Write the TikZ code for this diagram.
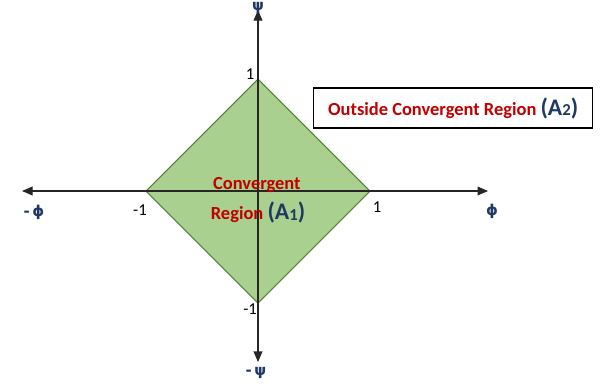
\documentclass[tikz,border=0pt]{standalone}
\usepackage{fontspec}
\setmainfont{Carlito}
\newfontfamily\greekfont{DejaVu Sans}
\usetikzlibrary{
  arrows.meta,
  positioning
}
\definecolor{regionred}{RGB}{192,0,0}
\definecolor{areablue}{RGB}{31,56,100}
\definecolor{diamondfill}{RGB}{169,208,142}
\definecolor{diamondedge}{RGB}{84,130,53}

\begin{document}
\begin{tikzpicture}[
        x=2.24cm, y=2.24cm,
        axis/.style={black!85, line width=0.6pt, -{Triangle[length=6pt,width=5pt]}},
        ticklabel/.style={font=\fontsize{9.5}{10}\selectfont, text=black},
        greeklabel/.style={font=\greekfont\bfseries\fontsize{8.5}{9}\selectfont, text=areablue, inner sep=1pt},
        regiontext/.style={font=\bfseries\fontsize{10.5}{12}\selectfont, text=regionred}
    ]
        \useasboundingbox (-2.3036,-1.7768) rectangle (3.125,1.7054);

        % Rombo de convergencia
        \coordinate (top) at (0,1);
        \coordinate (bottom) at (0,-1);
        \coordinate (left) at (-1,0);
        \coordinate (right) at (1,0);
        \draw[diamondedge, line width=0.6pt, fill=diamondfill] (top) -- (right) -- (bottom) -- (left) -- cycle;

        % Ejes
        \coordinate (origin) at (0,0);
        \coordinate (xpos) at (2.054,0);
        \coordinate (xneg) at (-2.107,0);
        \coordinate (ypos) at (0,1.616);
        \coordinate (yneg) at (0,-1.527);
        \draw[axis] (origin) -- (xpos);
        \draw[axis] (origin) -- (xneg);
        \draw[axis] (origin) -- (ypos);
        \draw[axis] (origin) -- (yneg);

        % Etiquetas de los ejes
        \node[greeklabel] (phi) at (2.089,-0.179) {ϕ};
        \node[greeklabel] (mphi) at (-2.0,-0.1875) {-\,ϕ};
        \node[greeklabel] (psi) at (0,1.632) {ψ};
        \node[greeklabel] (mpsi) at (-0.018,-1.625) {-\,ψ};
        \node[ticklabel] (tick1x) at (1.0625,-0.143) {1};
        \node[ticklabel] (tickm1x) at (-1.054,-0.17) {-1};
        \node[ticklabel] (tick1y) at (-0.071,1.045) {1};
        \node[ticklabel] (tickm1y) at (-0.071,-1.054) {-1};

        % Textos de las regiones
        \node[regiontext] (conv) at (-0.01,0.054) {Convergent};
        \node[regiontext] (convreg) at (0,-0.196) {Region {\color{areablue}\fontsize{13.5}{14}\selectfont(A\raisebox{-0.5pt}{\fontsize{9.5}{10}\selectfont 1})}};
        \node[draw=black, line width=0.6pt, fill=white, minimum width=5.58cm, minimum height=0.8cm, regiontext] (outside) at (1.743,0.741)
            {Outside Convergent Region {\color{areablue}\fontsize{13.5}{14}\selectfont(A\raisebox{-0.5pt}{\fontsize{9.5}{10}\selectfont 2})}\hspace{5.6pt}};
    \end{tikzpicture}
\end{document}
